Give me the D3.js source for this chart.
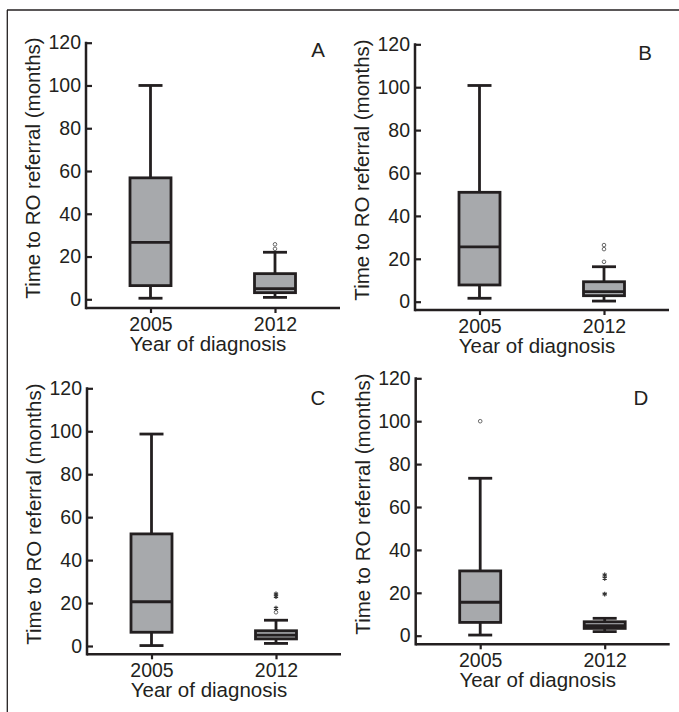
<!DOCTYPE html>
<html>
<head>
<meta charset="utf-8">
<script src="https://cdn.jsdelivr.net/npm/d3@7"></script>
<style>
  body { margin: 0; background: #fff; }
  text { font-family: "Liberation Sans", Arial, sans-serif; fill: #231f20; }
</style>
</head>
<body>
<script>
// data: one entry per panel (A-D), each [2005, 2012]
const panelLabels = ["A", "B", "C", "D"];
const years = ["2005", "2012"];
const yTicks = [0, 20, 40, 60, 80, 100, 120];

const whiskerLow = [[0.5, 0.9], [1.6, 0.3], [0.2, 1.2], [0.3, 1.9]];
const q1 = [[6.4, 3.1], [7.8, 2.8], [6.4, 3.3], [6.2, 3.4]];
const median = [[26.6, 5], [25.6, 4.7], [20.6, 5.1], [15.6, 4.7]];
const q3 = [[56.8, 12], [51, 9.3], [52.2, 7.1], [30.2, 6.5]];
const whiskerHigh = [[100, 22], [100.8, 16.3], [98.7, 12], [73.4, 8.1]];

// outliers: circles (mild) and stars (extreme)
const outlierCircles = [[[], [25.7, 23.6]], [[], [26.4, 24.5, 18.6]], [[], [15.7]], [[100], []]];
const outlierStars = [[[], []], [[], []], [[], [24.2, 23, 17.6]], [[], [28.3, 26.8, 19.4]]];

const width = 679;
const height = 712;

// panel layout (axis origin and scale ends)
const layout = [
  { ax: 86, y0: 299.3, y120: 42.7, xAxisY: 308, lx: 318, ly: 57 },
  { ax: 415, y0: 301.7, y120: 44.3, xAxisY: 310, lx: 645, ly: 60 },
  { ax: 87, y0: 646, y120: 388.3, xAxisY: 654.3, lx: 318, ly: 405 },
  { ax: 415.7, y0: 635.7, y120: 378.3, xAxisY: 644.3, lx: 641, ly: 405 },
];

const ink = "#231f20";
const boxFill = "#a7a9ac";
const font = '"Liberation Sans", Arial, sans-serif';

const svg = d3
  .select("body")
  .append("svg")
  .attr("width", width)
  .attr("height", height);

// outer frame (top and left edges)
svg.append("line")
  .attr("x1", 7).attr("y1", 10).attr("x2", width).attr("y2", 10)
  .attr("stroke", ink).attr("stroke-width", 1.3);
svg.append("line")
  .attr("x1", 7.3).attr("y1", 10).attr("x2", 7.3).attr("y2", height)
  .attr("stroke", ink).attr("stroke-width", 1.3);

panelLabels.forEach((label, p) => {
  const L = layout[p];
  const g = svg.append("g");

  const y = d3.scaleLinear().domain([0, 120]).range([L.y0, L.y120]);
  const x = d3.scalePoint().domain(years).range([L.ax + 64.5, L.ax + 189]);

  // y axis, ticks pointing inward
  const yAxis = g
    .append("g")
    .attr("transform", `translate(${L.ax},0)`)
    .call(d3.axisLeft(y).tickValues(yTicks).tickSizeInner(-6).tickSizeOuter(0).tickPadding(5));
  yAxis.select(".domain").remove();
  yAxis.selectAll(".tick line").attr("stroke", ink).attr("stroke-width", 2.2);
  yAxis.selectAll(".tick text")
    .style("font-family", font)
    .style("font-size", "19.5px")
    .attr("fill", ink);

  // x axis
  const xAxis = g
    .append("g")
    .attr("transform", `translate(0,${L.xAxisY})`)
    .call(d3.axisBottom(x).tickSize(5).tickPadding(4));
  xAxis.select(".domain").remove();
  xAxis.selectAll(".tick line").attr("stroke", ink).attr("stroke-width", 2.2);
  xAxis.selectAll(".tick text")
    .style("font-family", font)
    .style("font-size", "19.5px")
    .attr("fill", ink);

  // axis lines
  g.append("line")
    .attr("x1", L.ax).attr("x2", L.ax)
    .attr("y1", y(120) - 1).attr("y2", L.xAxisY + 1.2)
    .attr("stroke", ink).attr("stroke-width", 2.5);
  g.append("line")
    .attr("x1", L.ax).attr("x2", L.ax + 254)
    .attr("y1", L.xAxisY).attr("y2", L.xAxisY)
    .attr("stroke", ink).attr("stroke-width", 2.5);

  // axis titles
  g.append("text")
    .attr("text-anchor", "middle")
    .attr("transform", `translate(${L.ax - 46},${(L.y0 + L.y120) / 2 - 3}) rotate(-90)`)
    .style("font-size", "20.5px")
    .text("Time to RO referral (months)");
  g.append("text")
    .attr("text-anchor", "middle")
    .attr("x", L.ax + 122)
    .attr("y", L.xAxisY + 43)
    .style("font-size", "20.5px")
    .text("Year of diagnosis");

  // panel letter
  g.append("text")
    .attr("x", L.lx)
    .attr("y", L.ly)
    .attr("text-anchor", "middle")
    .style("font-size", "20.5px")
    .text(label);

  // box plots
  const boxW = 41;
  const capW = 24;
  years.forEach((yr, i) => {
    const cx = x(yr);
    const s = {
      lo: whiskerLow[p][i], q1: q1[p][i], med: median[p][i],
      q3: q3[p][i], hi: whiskerHigh[p][i],
    };
    const bg = g.append("g").attr("stroke", ink).attr("stroke-width", 2.8);

    bg.append("line")
      .attr("x1", cx).attr("x2", cx).attr("y1", y(s.q3)).attr("y2", y(s.hi));
    bg.append("line")
      .attr("x1", cx).attr("x2", cx).attr("y1", y(s.q1)).attr("y2", y(s.lo));
    bg.append("line")
      .attr("x1", cx - capW / 2).attr("x2", cx + capW / 2).attr("y1", y(s.hi)).attr("y2", y(s.hi));
    bg.append("line")
      .attr("x1", cx - capW / 2).attr("x2", cx + capW / 2).attr("y1", y(s.lo)).attr("y2", y(s.lo));
    bg.append("rect")
      .attr("x", cx - boxW / 2)
      .attr("y", y(s.q3))
      .attr("width", boxW)
      .attr("height", y(s.q1) - y(s.q3))
      .attr("fill", boxFill);
    bg.append("line")
      .attr("x1", cx - boxW / 2).attr("x2", cx + boxW / 2)
      .attr("y1", y(s.med)).attr("y2", y(s.med));

    g.selectAll(null)
      .data(outlierCircles[p][i])
      .join("circle")
      .attr("cx", cx)
      .attr("cy", (d) => y(d))
      .attr("r", 1.8)
      .attr("fill", "#fff")
      .attr("stroke", "#666")
      .attr("stroke-width", 1);

    g.selectAll(null)
      .data(outlierStars[p][i])
      .join("path")
      .attr("transform", (d) => `translate(${cx},${y(d)})`)
      .attr("d", d3.symbol(d3.symbolAsterisk, 16))
      .attr("fill", "none")
      .attr("stroke", "#333")
      .attr("stroke-width", 1.2);
  });
});
</script>
</body>
</html>
